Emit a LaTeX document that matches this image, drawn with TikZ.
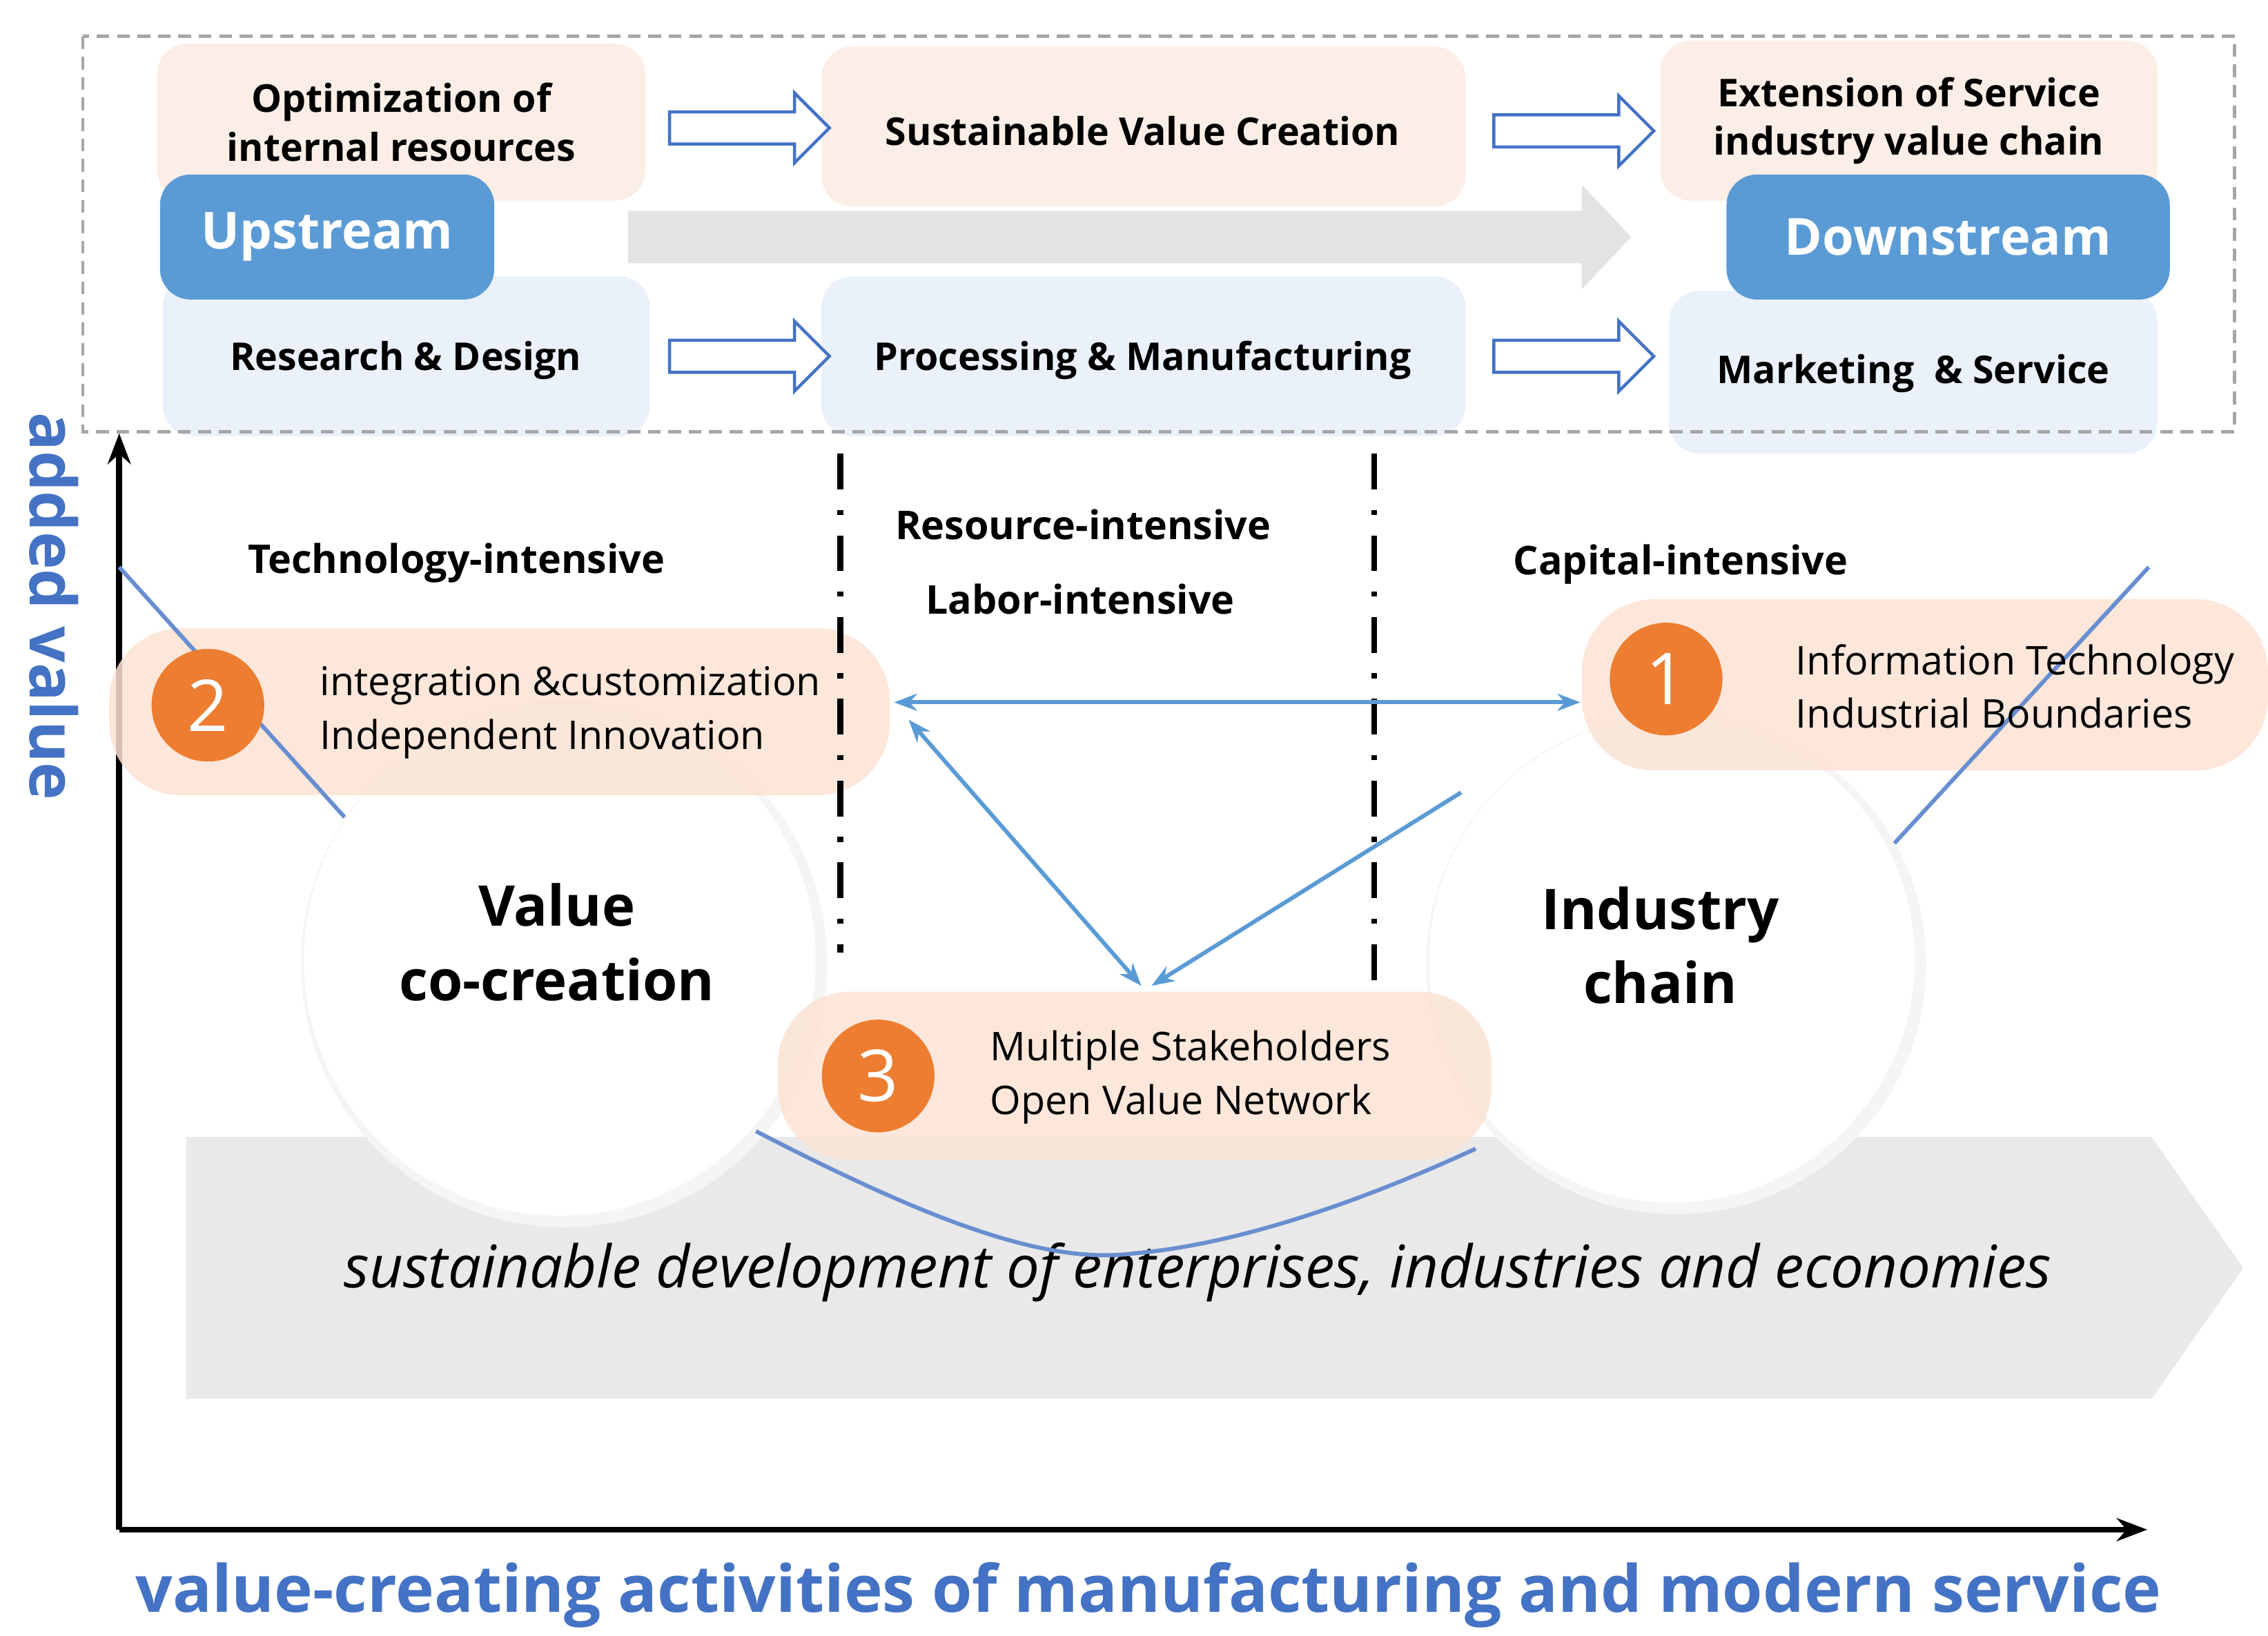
\documentclass[tikz,border=0pt]{standalone}
\usepackage{fontspec}
\setmainfont{Open Sans}
\usetikzlibrary{shapes.arrows,arrows.meta}
\definecolor{peach}{HTML}{FBEEE6}
\definecolor{lblue}{HTML}{EAF1FA}
\definecolor{mblue}{HTML}{5B9BD5}
\definecolor{dblue}{HTML}{4472C4}
\definecolor{orng}{HTML}{ED7D31}
\definecolor{pill}{HTML}{FBE3D4}
\begin{document}
\begin{tikzpicture}[x=0.02cm,y=-0.02cm,
 box/.style={rounded corners=12pt,draw=none,font=\fontsize{15}{19}\selectfont\bfseries,align=center},
 tag/.style={rounded corners=12pt,fill=mblue,text=white,font=\fontsize{20}{24}\selectfont\bfseries},
 oarr/.style={single arrow,draw=dblue,line width=1.2pt,fill=white,minimum height=2.2cm,single arrow head extend=0.26cm,inner xsep=0pt,inner ysep=0.2cm},
 lab/.style={font=\fontsize{15.5}{19}\selectfont\bfseries},
 ptxt/.style={font=\fontsize{15.5}{21}\selectfont,align=left,anchor=west},
 num/.style={circle,fill=orng,text=white,minimum size=1.55cm,inner sep=0pt,font=\fontsize{28}{30}\selectfont},
 pillst/.style={fill=pill,rounded corners=1cm,opacity=0.85},
 barr/.style={mblue,line width=1.6pt,-{Stealth[length=9pt]}},
 dd/.style={line width=2.2pt,dash pattern=on 14pt off 8pt on 2pt off 8pt}]
\useasboundingbox (0,0) rectangle (1560,1125);
% top boxes
\fill[peach,rounded corners=12pt] (108,30) rectangle (444,138);
\fill[peach,rounded corners=12pt] (565,32) rectangle (1008,142);
\fill[peach,rounded corners=12pt] (1142,28) rectangle (1484,138);
\fill[lblue,rounded corners=12pt] (112,190) rectangle (447,300);
\fill[lblue,rounded corners=12pt] (565,190) rectangle (1008,300);
\fill[lblue,rounded corners=12pt] (1148,200) rectangle (1484,312);
\node[box] (o1) at (276,84) {Optimization of\\internal resources};
\node[box] (o2) at (786,90) {Sustainable Value Creation};
\node[box] (o3) at (1313,83) {Extension of Service\\industry value chain};
\node[box] (r1) at (279,248) {Research \& Design};
\node[box] (r2) at (786,248) {Processing \& Manufacturing};
\node[box] (r3) at (1316,257) {Marketing\ \ \& Service};
\fill[gray!22] (432,145) -- (1088,145) -- (1088,127) -- (1122,163) -- (1088,199) -- (1088,181) -- (432,181) -- cycle;
\node[tag,minimum width=4.6cm,minimum height=1.72cm] (up) at (225,163) {Upstream};
\node[tag,minimum width=6.1cm,minimum height=1.72cm] (down) at (1340,163) {Downstream};
\node[oarr] (a1) at (510,88) {};
\node[oarr] (a2) at (1077,90) {};
\node[oarr] (a3) at (510,245) {};
\node[oarr] (a4) at (1077,245) {};
\draw[gray!70,line width=1.3pt,dash pattern=on 5pt off 3pt] (57,25) rectangle (1537,297);
% axes
\coordinate (o) at (82,1052);
\coordinate (yt) at (82,298);
\coordinate (xt) at (1477,1052);
\draw[line width=2.4pt,-{Stealth[length=12pt]}] (o) -- (yt);
\draw[line width=2.4pt,-{Stealth[length=12pt]}] (o) -- (xt);
\node[rotate=-90,text=dblue,font=\fontsize{25}{28}\selectfont\bfseries] (av) at (37,417) {added value};
\node[text=dblue,font=\fontsize{25.5}{28}\selectfont\bfseries] (xl) at (790,1097) {value-creating activities of manufacturing and modern service};
% bottom arrow
\fill[gray!17] (128,782) -- (1480,782) -- (1543,872) -- (1480,962) -- (128,962) -- cycle;
\node[font=\fontsize{23}{26}\selectfont\itshape] (sd) at (824,875) {sustainable development of enterprises, industries and economies};
% circles
\fill[gray!8] (388,663) circle (181);
\fill[white] (385,660) circle (176);
\fill[gray!8] (1153,663) circle (172);
\fill[white] (1150,660) circle (167);
\node[font=\fontsize{22}{29}\selectfont\bfseries,align=center] (vc) at (383,648) {Value\\co-creation};
\node[font=\fontsize{22}{29}\selectfont\bfseries,align=center] (ic) at (1142,650) {Industry\\chain};
% smile curve
\draw[dblue!80,line width=1.6pt] (520,778) .. controls (640,840) and (720,870) .. (780,862) .. controls (860,855) and (950,820) .. (1015,790);
% pills
\fill[pillst] (75,432) rectangle (612,547);
\fill[pillst] (1088,412) rectangle (1560,530);
\fill[pillst] (535,682) rectangle (1026,798);
\draw[dblue!80,line width=1.6pt] (82,390) -- (237,562);
\draw[dblue!80,line width=1.6pt] (1303,580) -- (1478,390);
\node[num] (n2) at (143,485) {2};
\node[num] (n1) at (1146,467) {1};
\node[num] (n3) at (604,740) {3};
\node[ptxt] (t2) at (214,490) {integration \&customization\\Independent Innovation};
\node[ptxt] (t1) at (1229,472) {Information Technology\\Industrial Boundaries};
\node[ptxt] (t3) at (675,741) {Multiple Stakeholders\\Open Value Network};
% labels
\node[lab] (l1) at (314,387) {Technology-intensive};
\node[lab] (l2) at (745,361) {Resource-intensive};
\node[lab] (l3) at (743,412) {Labor-intensive};
\node[lab] (l4) at (1156,388) {Capital-intensive};
% dash-dot lines
\draw[dd] (578,312) -- (578,655);
\draw[dd] (945,312) -- (945,678);
% blue arrows
\coordinate (pa) at (615,483);
\coordinate (pb) at (1087,483);
\coordinate (pc) at (625,495);
\coordinate (pd) at (785,678);
\coordinate (pe) at (1005,545);
\coordinate (pf) at (792,678);
\draw[barr,{Stealth[length=9pt]}-{Stealth[length=9pt]}] (pa) -- (pb);
\draw[barr,{Stealth[length=9pt]}-{Stealth[length=9pt]}] (pc) -- (pd);
\draw[barr] (pe) -- (pf);
\end{tikzpicture}
\end{document}
